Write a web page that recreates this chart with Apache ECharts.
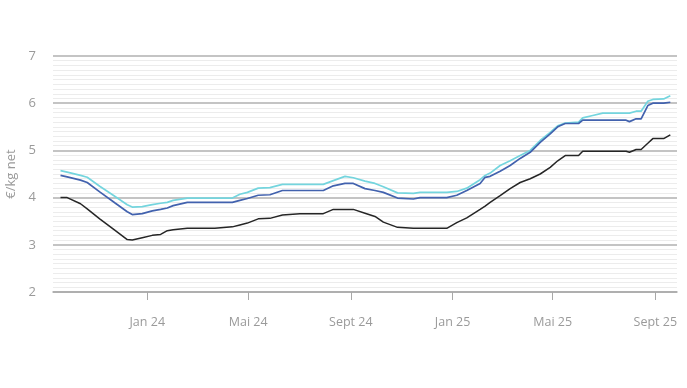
<!DOCTYPE html>
<html>
<head>
<meta charset="utf-8">
<script src="https://cdn.jsdelivr.net/npm/echarts@6/dist/echarts.min.js"></script>
<style>
html,body{margin:0;padding:0;background:#fff;}
#chart{width:687px;height:388px;}
</style>
</head>
<body>
<div id="chart"></div>
<script>
const dates = ["2023-09-19","2023-09-27","2023-10-13","2023-10-21","2023-11-05","2023-11-23","2023-12-08","2023-12-14","2023-12-26",
"2024-01-07","2024-01-17","2024-01-25","2024-02-01","2024-02-18","2024-03-04","2024-03-22","2024-04-12","2024-04-21","2024-04-30",
"2024-05-13","2024-05-27","2024-06-11","2024-07-02","2024-07-30","2024-08-11","2024-08-25","2024-09-04","2024-09-18","2024-09-30",
"2024-10-10","2024-10-27","2024-11-15","2024-11-23","2024-12-25","2025-01-06","2025-01-18","2025-02-03","2025-02-09","2025-02-15",
"2025-02-27","2025-03-11","2025-03-23","2025-04-04","2025-04-16","2025-04-28","2025-05-07","2025-05-16","2025-06-01","2025-06-06",
"2025-06-18","2025-06-30","2025-07-28","2025-08-01","2025-08-09","2025-08-15","2025-08-23","2025-08-29","2025-09-11","2025-09-19"];

const seriesCyan = [4.57,4.54,4.47,4.43,4.24,4.03,3.85,3.80,3.81,
3.85,3.88,3.90,3.94,3.99,3.99,3.99,3.99,4.07,4.11,
4.20,4.21,4.28,4.28,4.28,4.36,4.45,4.42,4.35,4.30,
4.23,4.10,4.09,4.11,4.11,4.13,4.20,4.38,4.47,4.52,
4.68,4.78,4.89,5.00,5.21,5.38,5.52,5.58,5.60,5.69,
5.74,5.79,5.79,5.79,5.83,5.83,6.04,6.08,6.09,6.16];

const seriesBlue = [4.47,4.44,4.37,4.32,4.12,3.89,3.70,3.64,3.66,
3.72,3.75,3.78,3.83,3.90,3.90,3.90,3.90,3.94,3.98,
4.05,4.06,4.15,4.15,4.15,4.25,4.30,4.30,4.19,4.15,
4.11,3.99,3.97,4.00,4.00,4.05,4.15,4.30,4.43,4.45,
4.56,4.68,4.83,4.96,5.17,5.35,5.50,5.57,5.57,5.64,
5.64,5.64,5.64,5.61,5.67,5.67,5.95,6.00,6.00,6.02];

const seriesBlack = [4.00,4.00,3.87,3.76,3.55,3.31,3.11,3.10,3.15,
3.20,3.22,3.30,3.32,3.35,3.35,3.35,3.38,3.42,3.46,
3.55,3.56,3.63,3.66,3.66,3.75,3.75,3.75,3.67,3.60,
3.48,3.37,3.35,3.35,3.35,3.47,3.57,3.75,3.82,3.90,
4.04,4.19,4.32,4.40,4.50,4.64,4.78,4.89,4.89,4.98,
4.98,4.98,4.98,4.96,5.02,5.02,5.15,5.25,5.25,5.33];

const tickDates = ["2024-01-01","2024-05-01","2024-09-01","2025-01-01","2025-05-01","2025-09-01"];
const tickLabels = ["Jan 24","Mai 24","Sept 24","Jan 25","Mai 25","Sept 25"];

const ts = d => new Date(d + "T00:00:00Z").getTime();
const tickTs = tickDates.map(ts);
const zip = vals => dates.map((d, i) => [ts(d), vals[i]]);

const chart = echarts.init(document.getElementById('chart'));
const font = '"Open Sans", "Noto Sans", sans-serif';
chart.setOption({
  animation: false,
  backgroundColor: '#fff',
  grid: {left: 53, right: 10, top: 56, bottom: 96, containLabel: false, outerBoundsMode: 'none'},
  xAxis: {
    type: 'value',
    min: ts("2023-09-10"),
    max: ts("2025-09-27"),
    axisLine: {show: true, onZero: false, lineStyle: {color: '#a8a8a8', width: 1.5}},
    axisTick: {show: true, length: 8, inside: false, lineStyle: {color: '#a8a8a8', width: 1}, customValues: tickTs},
    axisLabel: {
      color: '#9a9a9a', fontSize: 12.5, fontFamily: font, margin: 24,
      customValues: tickTs,
      hideOverlap: false,
      formatter: v => { const i = tickTs.indexOf(v); return i >= 0 ? tickLabels[i] : ''; }
    },
    splitLine: {show: false}
  },
  yAxis: {
    type: 'value',
    min: 2, max: 7, interval: 1,
    name: '€/kg net',
    nameLocation: 'middle',
    nameGap: 34,
    nameRotate: 90,
    nameTextStyle: {color: '#9a9a9a', fontSize: 13, fontFamily: font},
    axisLine: {show: false},
    axisTick: {show: false},
    axisLabel: {color: '#9a9a9a', fontSize: 13, fontFamily: font, margin: 17},
    splitLine: {show: true, lineStyle: {color: '#b0b0b0', width: 1.5}},
    minorTick: {show: false, splitNumber: 10},
    minorSplitLine: {show: true, lineStyle: {color: '#ececec', width: 1}}
  },
  series: [
    {type: 'line', data: zip(seriesCyan), showSymbol: false, lineStyle: {color: '#74d5de', width: 1.7}, itemStyle: {color: '#74d5de'}},
    {type: 'line', data: zip(seriesBlue), showSymbol: false, lineStyle: {color: '#4262ae', width: 1.7}, itemStyle: {color: '#4262ae'}},
    {type: 'line', data: zip(seriesBlack), showSymbol: false, lineStyle: {color: '#262626', width: 1.5}, itemStyle: {color: '#262626'}}
  ]
});
</script>
</body>
</html>
